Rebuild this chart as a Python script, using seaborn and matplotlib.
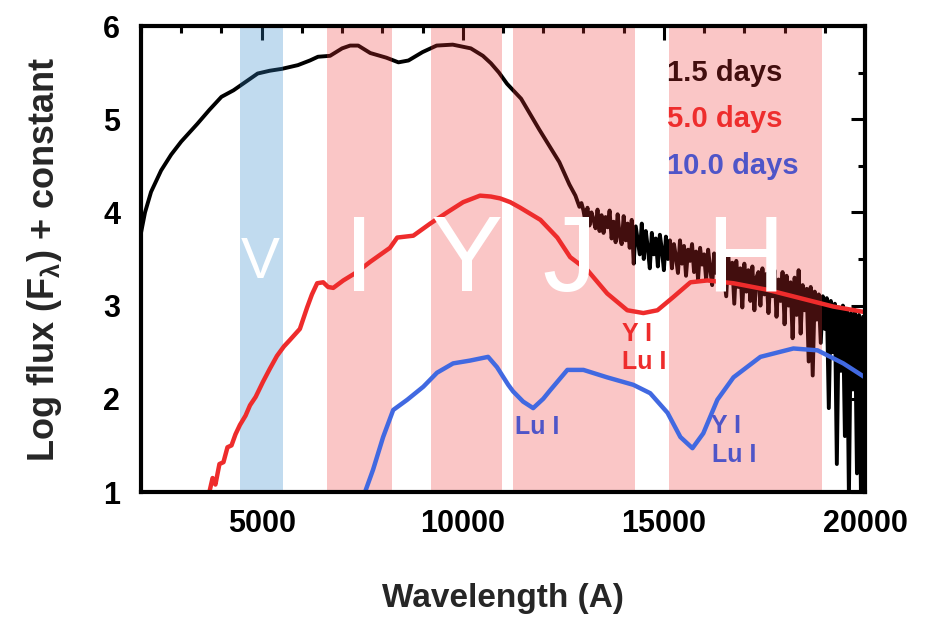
import numpy as np
import pandas as pd
import seaborn as sns
import matplotlib.pyplot as plt
from matplotlib.ticker import MultipleLocator

# 1.5 days spectrum: smooth optical part
wave_15a = [2000, 2100, 2250, 2500, 2750, 3000, 3400, 3700, 4000, 4300, 4500, 4900, 5200, 5500,
            5900, 6200, 6400, 6700, 7000, 7200, 7400, 7700, 8100, 8400, 8650, 9000, 9350, 9750,
            10200, 10500, 10700, 10900, 11100, 11450, 11900, 12400, 12650, 12800, 12900, 12950]
flux_15a = [3.78, 4.00, 4.22, 4.45, 4.62, 4.76, 4.95, 5.10, 5.24, 5.31, 5.37, 5.49, 5.52, 5.54,
            5.58, 5.63, 5.67, 5.68, 5.76, 5.79, 5.79, 5.71, 5.66, 5.61, 5.63, 5.72, 5.79, 5.80,
            5.76, 5.68, 5.60, 5.50, 5.38, 5.22, 4.89, 4.54, 4.30, 4.18, 4.06, 4.10]
# noisy NIR part, 13000-20000 every 50 A
wave_15b = list(range(13000, 20001, 50))
flux_15b = [4.02, 3.90, 4.05, 3.86, 4.00, 3.92, 3.83, 4.03, 3.80, 3.97,
            3.78, 3.95, 3.84, 4.02, 3.72, 3.90, 3.68, 3.98, 3.75, 3.66,
            3.96, 3.70, 3.88, 3.62, 3.92, 3.45, 3.85, 3.70, 3.55, 3.88,
            3.50, 3.80, 3.62, 3.40, 3.78, 3.55, 3.72, 3.42, 3.76, 3.60,
            3.38, 3.74, 3.50, 3.70, 3.40, 3.66, 3.52, 3.35, 3.70, 3.45,
            3.64, 3.32, 3.60, 3.48, 3.66, 3.36, 3.58, 3.28, 3.62, 3.44,
            3.55, 3.28, 3.60, 3.40, 3.22, 3.56, 3.35, 3.52, 3.18, 3.50,
            3.30, 3.10, 3.54, 3.25, 3.46, 3.02, 3.48, 3.20, 3.40, 2.98,
            3.45, 3.15, 3.38, 3.05, 3.42, 2.95, 3.30, 3.36, 3.00, 3.40,
            3.12, 3.34, 2.92, 3.30, 3.10, 3.38, 2.88, 3.28, 3.05, 3.36,
            2.80, 3.32, 3.00, 3.25, 2.65, 3.30, 2.90, 3.38, 2.70, 3.22,
            2.95, 3.18, 2.40, 3.20, 2.25, 3.15, 2.85, 3.12, 2.60, 3.10,
            2.75, 3.08, 1.90, 3.05, 2.50, 3.02, 1.30, 2.98, 2.30, 3.00,
            1.60, 2.95, 0.95, 2.92, 2.10, 2.95, 1.20, 2.90, 0.95, 2.88,
            2.85]
wave_15 = wave_15a + wave_15b
flux_15 = flux_15a + flux_15b

# 5.0 days
wave_50 = [3700, 3780, 3850, 3950, 4050, 4150, 4250, 4350, 4460, 4600, 4710, 4850, 5030, 5200,
           5380, 5550, 5700, 5950, 6130, 6250, 6380, 6530, 6650, 6780, 7030, 7370, 7700, 8190,
           8370, 8770, 9190, 9610, 10010, 10430, 10700, 10930, 11180, 11430, 11930, 12350,
           12670, 13100, 13590, 14090, 14490, 14840, 15230, 15660, 16080, 16730, 17570,
           18390, 19210, 20000]
flux_50 = [1.00, 1.15, 1.08, 1.30, 1.32, 1.48, 1.50, 1.62, 1.72, 1.82, 1.93, 2.02, 2.18, 2.32,
           2.46, 2.56, 2.63, 2.75, 2.98, 3.12, 3.24, 3.25, 3.20, 3.19, 3.27, 3.36, 3.47, 3.62,
           3.73, 3.75, 3.88, 4.00, 4.11, 4.18, 4.17, 4.15, 4.11, 4.05, 3.92, 3.73,
           3.52, 3.38, 3.13, 2.95, 2.92, 2.95, 3.09, 3.25, 3.27, 3.24, 3.17,
           3.08, 2.99, 2.93]

# 10.0 days
wave_100 = [7570, 7770, 8020, 8270, 8620, 9020, 9360, 9760, 10180, 10630, 10850, 11130, 11250,
            11500, 11750, 12000, 12170, 12600, 13000, 13590, 14240, 14660, 15090, 15410, 15710,
            15980, 16330, 16730, 17400, 18220, 18820, 19460, 20000]
flux_100 = [1.00, 1.24, 1.59, 1.88, 1.99, 2.13, 2.28, 2.38, 2.41, 2.45, 2.34, 2.15, 2.08,
            1.97, 1.90, 2.00, 2.09, 2.31, 2.31, 2.23, 2.15, 2.06, 1.85, 1.59, 1.47,
            1.63, 1.99, 2.23, 2.45, 2.54, 2.52, 2.38, 2.23]

band_names = ["V", "I", "Y", "J", "H"]
band_lo = [4460, 6630, 9210, 11250, 15130]
band_hi = [5530, 8240, 10980, 14290, 18940]
band_cen = [4960, 7420, 10110, 12650, 17030]

legend_labels = ["1.5 days", "5.0 days", "10.0 days"]

black = "#000000"
red = "#ee2c2c"
blue = "#4169e1"
blue_txt = "#4f55c8"

sns.set_style("white")
plt.rcParams["font.family"] = ["Liberation Sans", "DejaVu Sans"]
plt.rcParams["font.weight"] = "bold"
plt.rcParams["mathtext.fontset"] = "custom"
plt.rcParams["mathtext.rm"] = "Liberation Sans:bold"
plt.rcParams["mathtext.it"] = "Liberation Sans:bold"

fig = plt.figure(figsize=(9.39, 6.18), dpi=100)
ax = fig.add_axes([141 / 939, 1 - 492 / 618, (865 - 141) / 939, (492 - 26) / 618])

df15 = pd.DataFrame({"wave": wave_15, "flux": flux_15})
df50 = pd.DataFrame({"wave": wave_50, "flux": flux_50})
df100 = pd.DataFrame({"wave": wave_100, "flux": flux_100})
sns.lineplot(data=df15, x="wave", y="flux", color=black, lw=2.8, sort=False, estimator=None, ax=ax, zorder=2)
sns.lineplot(data=df50, x="wave", y="flux", color=red, lw=3.2, sort=False, estimator=None, ax=ax, zorder=4.5)
sns.lineplot(data=df100, x="wave", y="flux", color=blue, lw=3.2, sort=False, estimator=None, ax=ax, zorder=4.5)

# filter bands
for i in range(len(band_names)):
    if band_names[i] == "V":
        ax.axvspan(band_lo[i], band_hi[i], color="#3388cc", alpha=0.3, lw=0, zorder=4)
    else:
        ax.axvspan(band_lo[i], band_hi[i], color="#ee3333", alpha=0.28, lw=0, zorder=4)
narrow = ["Liberation Sans Narrow", "Liberation Sans"]
for i in range(len(band_names)):
    fs = 42 if band_names[i] == "V" else 78
    ax.text(band_cen[i], 3.46, band_names[i], color="white", fontsize=fs, fontweight="normal",
            family=narrow, ha="center", va="center", zorder=5)

# legend as coloured text
for lab, yy, c, z in zip(legend_labels, [5.5, 5.0, 4.5], [black, red, blue_txt], [3, 3, 4.6]):
    ax.text(15085, yy, lab, color=c, fontsize=21, fontweight="bold", ha="left", va="center", zorder=z)

# line identifications
ax.text(14340, 2.70, "Y I", color=red, fontsize=18, ha="center", va="center", zorder=4.6)
ax.text(14500, 2.39, "Lu I", color=red, fontsize=18, ha="center", va="center", zorder=4.6)
ax.text(11850, 1.70, "Lu I", color=blue_txt, fontsize=18, ha="center", va="center", zorder=4.6)
ax.text(16550, 1.71, "Y I", color=blue_txt, fontsize=18, ha="center", va="center", zorder=4.6)
ax.text(16760, 1.40, "Lu I", color=blue_txt, fontsize=18, ha="center", va="center", zorder=4.6)

ax.set_xlim(2000, 20000)
ax.set_ylim(1, 6)
ax.xaxis.set_major_locator(MultipleLocator(5000))
ax.xaxis.set_minor_locator(MultipleLocator(1000))
ax.yaxis.set_major_locator(MultipleLocator(1))
ax.yaxis.set_minor_locator(MultipleLocator(0.5))
ax.tick_params(which="both", direction="in", top=True, right=True, width=2.2, colors="black")
ax.tick_params(which="major", length=10)
ax.tick_params(which="minor", length=5)
ax.tick_params(axis="x", which="major", pad=12, labelsize=22)
ax.tick_params(axis="y", which="major", pad=15, labelsize=22)
for s in ax.spines.values():
    s.set_linewidth(3)
    s.set_color("black")
    s.set_zorder(6)

ax.set_xlabel("Wavelength (A)", fontsize=24, fontweight="bold", labelpad=32)
ax.set_ylabel(r"Log flux (F$_{\lambda}$) + constant", fontsize=26, fontweight="bold", labelpad=28)

fig.savefig("out.png", dpi=100)
